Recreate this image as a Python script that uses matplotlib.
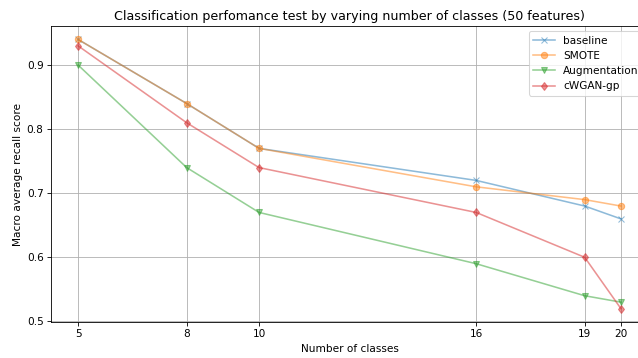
import matplotlib
matplotlib.use("Agg")
import matplotlib.pyplot as plt

classes = [5, 8, 10, 16, 19, 20]
baseline = [0.94, 0.84, 0.77, 0.72, 0.68, 0.66]
smote = [0.94, 0.84, 0.77, 0.71, 0.69, 0.68]
augmentation = [0.90, 0.74, 0.67, 0.59, 0.54, 0.53]
cwgan = [0.93, 0.81, 0.74, 0.67, 0.60, 0.52]

DPI = 76
fig = plt.figure(figsize=(638 / DPI, 358 / DPI), dpi=DPI)
ax = fig.add_axes([51/638, 1 - 322/358, (648 - 51)/638, (322 - 26)/358])

ax.plot(classes, baseline, marker="x", alpha=0.5, label="baseline")
ax.plot(classes, smote, marker="o", alpha=0.5, label="SMOTE")
ax.plot(classes, augmentation, marker="v", alpha=0.5, label="Augmentation")
ax.plot(classes, cwgan, marker="d", alpha=0.5, label="cWGAN-gp")

ax.set_xticks(classes)
ax.grid(True)
ax.set_xlabel("Number of classes")
ax.set_ylabel("Macro average recall score")
ax.set_title("Classification perfomance test by varying number of classes (50 features)")
ax.legend(loc="upper right")

fig.savefig("out.png", dpi=DPI)
